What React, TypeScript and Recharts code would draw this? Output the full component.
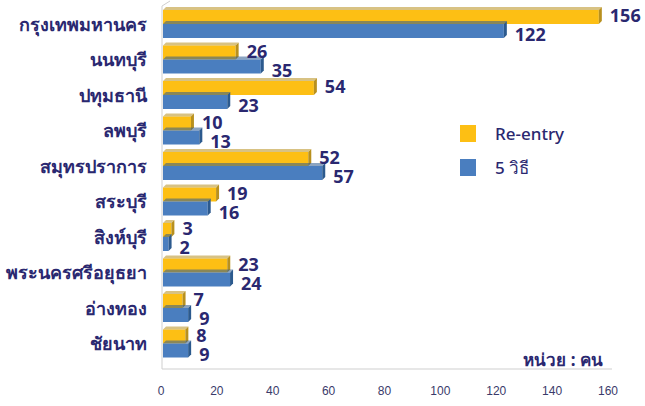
import React from 'react';
import { BarChart, Bar, XAxis, YAxis, LabelList } from 'recharts';

const categories = ['กรุงเทพมหานคร', 'นนทบุรี', 'ปทุมธานี', 'ลพบุรี', 'สมุทรปราการ', 'สระบุรี', 'สิงห์บุรี', 'พระนครศรีอยุธยา', 'อ่างทอง', 'ชัยนาท'];
const reEntry = [156, 26, 54, 10, 52, 19, 3, 23, 7, 8];
const fiveWays = [122, 35, 23, 13, 57, 16, 2, 24, 9, 9];
const xTicks = [0, 20, 40, 60, 80, 100, 120, 140, 160];
const seriesNames = ['Re-entry', '5 วิธี'];
const unitText = 'หน่วย : คน';

const data = categories.map((name, i) => ({ name, reEntry: reEntry[i], fiveWays: fiveWays[i] }));

const NAVY = '#2a2870';
const YELLOW = '#FDBF14';
const YELLOW_DARK = '#B8901E';
const BLUE = '#4A7EBF';
const BLUE_DARK = '#2C5A8E';
const seriesColors = [YELLOW, BLUE];
const FONT = "'Noto Sans', 'DejaVu Sans', sans-serif";

const make3D = (dark: string) => (props: any) => {
  const { x, y, width, height, fill } = props;
  if (width == null || height == null) return null;
  const d = 3;
  return (
    <g>
      <rect x={x} y={y} width={width} height={height} fill={fill} />
      <polygon points={`${x},${y} ${x + d},${y - d} ${x + width + d},${y - d} ${x + width},${y}`} fill={dark} opacity={0.55} />
      <polygon points={`${x + width},${y} ${x + width + d},${y - d} ${x + width + d},${y + height - d} ${x + width},${y + height}`} fill={dark} />
    </g>
  );
};

const makeLabel = (dy: number) => (props: any) => {
  const { x, y, width, height, value } = props;
  return (
    <text x={x + width + 11} y={y + height / 2 + dy} dominantBaseline="central" textAnchor="start"
      fill={NAVY} fontSize={18} fontWeight={700} fontFamily={FONT}>{value}</text>
  );
};

const YTick = (props: any) => {
  const { x, y, payload } = props;
  return (
    <text x={x - 8} y={y} dominantBaseline="central" textAnchor="end" fill={NAVY} fontSize={18} fontWeight={700} fontFamily={FONT}>
      {payload.value}
    </text>
  );
};

const XTick = (props: any) => {
  const { x, y, payload } = props;
  return (
    <text x={x - 2} y={y + 22} dominantBaseline="central" textAnchor="middle" fill="#3a3a6a" fontSize={12} fontFamily="'Liberation Sans Narrow', 'Liberation Sans', sans-serif">
      {payload.value}
    </text>
  );
};

export default function App() {
  return (
    <div style={{ position: 'absolute', left: 0, top: 0, width: 645, height: 406, background: '#fff' }}>
      <svg width={645} height={406} style={{ position: 'absolute', left: 0, top: 0 }}>
        <polyline points="170,1 162,6 162,369 612,369" fill="none" stroke="#cfcfcf" strokeWidth={1} />
        <text x={603} y={359} textAnchor="end" dominantBaseline="central" fill={NAVY} fontSize={17} fontWeight={700} fontFamily={FONT}>{unitText}</text>
        {seriesNames.map((s, i) => (
          <g key={s}>
            <rect x={460} y={125 + i * 34} width={16} height={17} fill={seriesColors[i]} />
            <text x={495} y={133 + i * 34} dominantBaseline="central" fill={NAVY} fontSize={17} fontWeight={500} fontFamily={FONT}>{s}</text>
          </g>
        ))}
      </svg>
      <div style={{ position: 'absolute', left: 0, top: 0 }}>
        <BarChart width={645} height={406} data={data} layout="vertical"
          margin={{ top: 6, right: 35, bottom: 15, left: 0 }} barCategoryGap={4} barGap={0}>
          <XAxis type="number" domain={[0, 160]} ticks={xTicks} axisLine={false} tickLine={false} tick={<XTick />} interval={0} height={30} />
          <YAxis type="category" dataKey="name" width={163} axisLine={false} tickLine={false} tick={<YTick />} interval={0} />
          <Bar dataKey="reEntry" name={seriesNames[0]} fill={YELLOW} isAnimationActive={false} shape={make3D(YELLOW_DARK)}>
            <LabelList dataKey="reEntry" content={makeLabel(-2)} />
          </Bar>
          <Bar dataKey="fiveWays" name={seriesNames[1]} fill={BLUE} isAnimationActive={false} shape={make3D(BLUE_DARK)}>
            <LabelList dataKey="fiveWays" content={makeLabel(3)} />
          </Bar>
        </BarChart>
      </div>
    </div>
  );
}
